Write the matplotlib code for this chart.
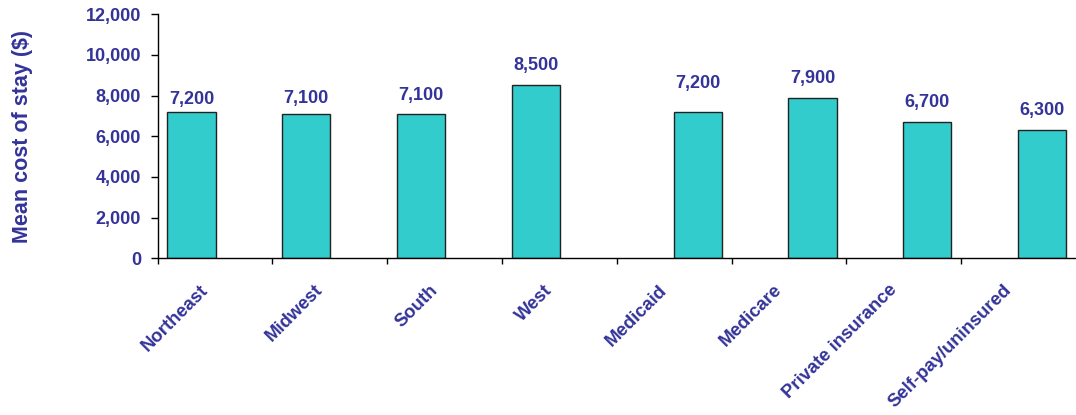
import matplotlib
matplotlib.use("Agg")
import matplotlib.pyplot as plt
import matplotlib.transforms as mtransforms
import numpy as np

# data
categories = ["Northeast", "Midwest", "South", "West",
              "Medicaid", "Medicare", "Private insurance", "Self-pay/uninsured"]
region_costs = [7200, 7100, 7100, 8500]
payer_costs = [7200, 7900, 6700, 6300]

text_col = "#333399"
bar_col = "#33CCCC"

plt.rcParams["font.family"] = ["Liberation Sans", "DejaVu Sans"]
plt.rcParams["font.weight"] = "bold"

fig = plt.figure(figsize=(10.76, 4.15), dpi=100)
ax = fig.add_axes([157.7 / 1076, 1 - 258.3 / 415, (1076 - 157.7) / 1076, 244 / 415])

x = np.arange(len(categories))
xr = x[:4] - 0.205
xp = x[4:] + 0.205
w = 0.42
b1 = ax.bar(xr, region_costs, width=w, color=bar_col, edgecolor="#222222", linewidth=1.0, zorder=2)
b2 = ax.bar(xp, payer_costs, width=w, color=bar_col, edgecolor="#222222", linewidth=1.0, zorder=2)

# value labels (excel had them nudged by hand)
region_pad = [3, 5, 7, 8]
payer_pad = [14, 8, 8, 8]
for bars, vals, pads in [(b1, region_costs, region_pad), (b2, payer_costs, payer_pad)]:
    for rect, v, p in zip(bars, vals, pads):
        ax.annotate(f"{v:,}", (rect.get_x() + rect.get_width() / 2, v),
                    xytext=(0, p), textcoords="offset points",
                    ha="center", va="bottom", fontsize=13, fontweight="bold",
                    color=text_col)

ax.set_xlim(-0.5, 7.5)
ax.set_ylim(0, 12000)
ax.set_yticks(np.arange(0, 12001, 2000))
ax.set_yticklabels([f"{t:,}" for t in range(0, 12001, 2000)])
ax.set_xticks(x)
ax.set_xticklabels(categories, rotation=45, ha="right", va="center",
                   rotation_mode="anchor")
ax.set_xticks(np.arange(-0.5, 7.0, 1.0), minor=True)

ax.tick_params(axis="x", which="major", length=0, pad=21, labelsize=13.3,
               labelcolor=text_col)
ax.tick_params(axis="x", which="minor", length=4, width=1, direction="out")
ax.tick_params(axis="y", length=5, width=1, direction="out", pad=7,
               labelsize=13, labelcolor=text_col)

# nudge rotated labels left, like the original
shift = mtransforms.ScaledTranslation(-7 / 72, 0, fig.dpi_scale_trans)
for lab in ax.get_xticklabels():
    lab.set_transform(lab.get_transform() + shift)

for s in ["top", "right"]:
    ax.spines[s].set_visible(False)
for s in ["left", "bottom"]:
    ax.spines[s].set_linewidth(1.0)
    ax.spines[s].set_color("black")

ax.set_ylabel("Mean cost of stay ($)", fontsize=15.5, fontweight="bold",
              color=text_col)
ax.yaxis.set_label_coords(-125 / (1076 - 157.7), 0.5)

fig.savefig("out.png", dpi=100)
